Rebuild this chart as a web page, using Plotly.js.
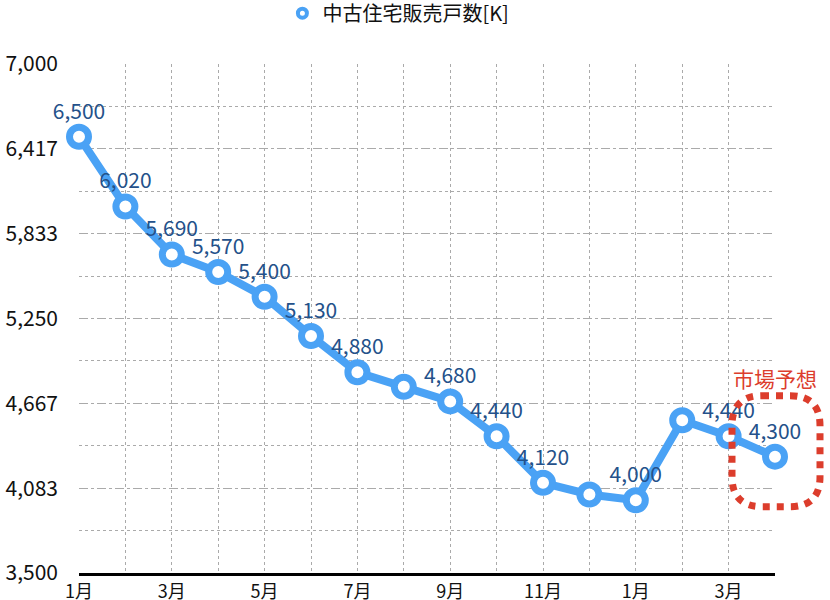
<!DOCTYPE html>
<html>
<head>
<meta charset="utf-8">
<script src="https://cdn.plot.ly/plotly-3.0.1.min.js"></script>
<style>
  html, body { margin: 0; padding: 0; background: #fff; }
  #plot { width: 830px; height: 600px; }
</style>
</head>
<body>
<div id="plot"></div>
<script>
// months on the x axis (two years, Jan .. Apr of next year)
const months = ["1月", "2月", "3月", "4月", "5月", "6月", "7月", "8月",
  "9月", "10月", "11月", "12月", "1月", "2月", "3月", "4月"];
// sales of used houses [K]
const sales = [6500, 6020, 5690, 5570, 5400, 5130, 4880, 4780,
  4680, 4440, 4120, 4040, 4000, 4550, 4440, 4300];
// which points carry a value label
const showLabel = [1, 1, 1, 1, 1, 1, 1, 0, 1, 1, 1, 0, 1, 0, 1, 1];
const seriesName = "中古住宅販売戸数[K]";
const forecastText = "市場予想";

const yMin = 3500, yMax = 7000, yStep = (7000 - 3500) / 6;

const font = '"Noto Sans CJK JP", "Noto Sans", sans-serif';
const blue = "#4aa2f5";
const red = "#dc3d2c";

const idx = months.map(function (m, i) { return i; });
const labels = sales.map(function (v, i) {
  return showLabel[i] ? v.toLocaleString("en-US") : "";
});

const yTicks = [];
for (let k = 0; k <= 6; k++) yTicks.push(yMin + k * yStep);
const yTickText = yTicks.map(function (v) {
  return Math.round(v).toLocaleString("en-US");
});
const xTicks = idx.filter(function (i) { return i % 2 === 0; });
const xTickText = xTicks.map(function (i) { return months[i]; });

const trace = {
  x: idx,
  y: sales,
  text: labels,
  type: "scatter",
  mode: "lines+markers+text",
  textposition: "top center",
  textfont: { family: font, size: 21, color: "#24518a" },
  line: { color: blue, width: 8 },
  marker: { size: 19, color: "#fff", line: { color: blue, width: 7 } },
  showlegend: false,
  cliponaxis: false,
  hoverinfo: "x+y",
};

// legend entry only shows the open marker
const legendTrace = {
  x: [null],
  y: [null],
  type: "scatter",
  mode: "markers",
  name: seriesName,
  marker: { size: 9, color: "#fff", line: { color: blue, width: 4 } },
};

const last = idx.length - 1;
const lastPaperY = (sales[last] - yMin) / (yMax - yMin);

const layout = {
  width: 830,
  height: 600,
  margin: { l: 79, r: 55, t: 64, b: 27 },
  paper_bgcolor: "#fff",
  plot_bgcolor: "#fff",
  font: { family: font, size: 20, color: "#111" },
  showlegend: true,
  legend: {
    orientation: "h",
    x: 0.48,
    xref: "container",
    xanchor: "center",
    y: 0.978,
    yref: "container",
    yanchor: "middle",
    font: { family: font, size: 20, color: "#111" },
  },
  xaxis: {
    range: [0, last],
    tickvals: xTicks,
    ticktext: xTickText,
    tickfont: { family: font, size: 18, color: "#111" },
    tickangle: 0,
    automargin: false,
    showgrid: true,
    gridcolor: "#aaaaaa",
    gridwidth: 1,
    griddash: "dot",
    minor: { dtick: 1, tick0: 0, showgrid: true, gridcolor: "#aaaaaa", griddash: "dot" },
    showline: true,
    linecolor: "#000",
    linewidth: 3,
    zeroline: false,
    ticks: "",
    ticklabelstandoff: 0,
    fixedrange: true,
  },
  yaxis: {
    range: [yMin, yMax],
    tickvals: yTicks,
    ticktext: yTickText,
    tickfont: { family: font, size: 21, color: "#111" },
    automargin: false,
    showgrid: true,
    gridcolor: "#aaaaaa",
    gridwidth: 1,
    griddash: "dash",
    minor: { dtick: yStep / 2, tick0: yMin, showgrid: true, gridcolor: "#aaaaaa", griddash: "dot" },
    showline: false,
    zeroline: false,
    ticks: "",
    ticklabelstandoff: 20,
    fixedrange: true,
  },
  shapes: [{
    type: "path",
    xref: "paper",
    yref: "paper",
    xsizemode: "pixel",
    ysizemode: "pixel",
    xanchor: 1,
    yanchor: lastPaperY,
    path: "M -13 61 L 15 61 Q 45 61 45 31 L 45 -20 Q 45 -50 15 -50 L -13 -50 " +
      "Q -43 -50 -43 -20 L -43 31 Q -43 61 -13 61 Z",
    line: { color: red, width: 7, dash: "7px,7px" },
    layer: "above",
  }],
  annotations: [{
    x: last,
    y: sales[last],
    xref: "x",
    yref: "y",
    text: forecastText,
    showarrow: false,
    yshift: 79,
    font: { family: font, size: 21, color: red },
  }],
};

Plotly.newPlot("plot", [trace, legendTrace], layout, { displayModeBar: false, staticPlot: true });
</script>
</body>
</html>
